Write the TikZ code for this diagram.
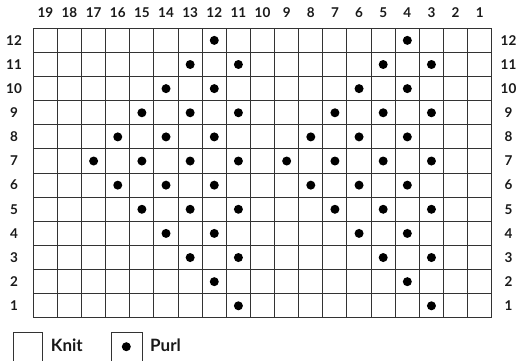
\documentclass[tikz,border=0pt]{standalone}
\usepackage{fontspec}
\setmainfont{Lato}
\begin{document}
\begin{tikzpicture}[x=1pt,y=-1pt,
  gridline/.style={draw=black!80,line width=1pt},
  lbl/.style={font=\fontsize{13.5}{15}\selectfont\bfseries,text=black!90,inner sep=0pt,anchor=center},
  legtext/.style={font=\fontsize{17}{19}\selectfont\bfseries,text=black!90,inner sep=0pt,anchor=base west},
  purl/.style={circle,fill=black,inner sep=0pt,minimum size=9pt},
  legbox/.style={draw=black!80,line width=1pt}]
\useasboundingbox (0,0) rectangle (516,360);
\def\L{33.3}\def\T{28.3}\def\s{24.13}
% grid
\foreach \i in {0,...,19}{
  \draw[gridline] ({\L+\i*\s},\T) -- ({\L+\i*\s},{\T+12*\s});
}
\foreach \j in {0,...,12}{
  \draw[gridline] (\L,{\T+\j*\s}) -- ({\L+19*\s},{\T+\j*\s});
}
% column labels
\foreach \c in {1,...,19}{
  \node[lbl,name=col\c] at ({\L+(19-\c+0.5)*\s},12.5) {\c};
}
% row labels
\foreach \r in {1,...,12}{
  \node[lbl,name=rowl\r] at (14,{\T+(12-\r+0.5)*\s}) {\r};
  \node[lbl,name=rowr\r] at (508.5,{\T+(12-\r+0.5)*\s}) {\r};
}
% purl dots: row/col pairs
\foreach \r/\cols in {12/{12,4},11/{13,11,5,3},10/{14,12,6,4},9/{15,13,11,7,5,3},8/{16,14,12,8,6,4},7/{17,15,13,11,9,7,5,3},6/{16,14,12,8,6,4},5/{15,13,11,7,5,3},4/{14,12,6,4},3/{13,11,5,3},2/{12,4},1/{11,3}}{
  \foreach \c in \cols{
    \node[purl,name=p\r-\c] at ({\L+(19-\c+0.5)*\s},{\T+(12-\r+0.5)*\s}) {};
  }
}
% legend
\node[legbox,minimum width=29.6pt,minimum height=34pt,anchor=north west,inner sep=0pt,name=knitbox] at (12.7,331.7) {};
\node[legtext,name=knittext] at (50.7,351.7) {Knit};
\node[legbox,minimum width=30.7pt,minimum height=34pt,anchor=north west,inner sep=0pt,name=purlbox] at (111,331.7) {};
\node[purl,name=purldot] at (126.3,346.7) {};
\node[legtext,name=purltext] at (150,351.7) {Purl};
\end{tikzpicture}
\end{document}
